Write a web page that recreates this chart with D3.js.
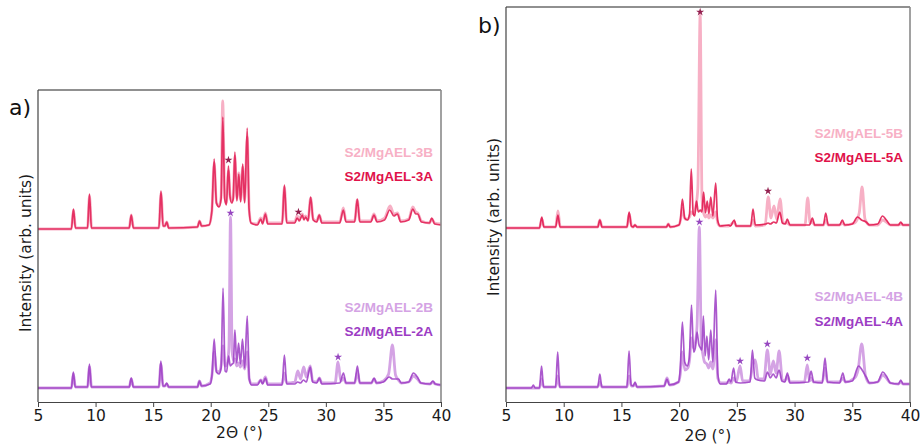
<!DOCTYPE html>
<html>
<head>
<meta charset="utf-8">
<script src="https://cdn.jsdelivr.net/npm/d3@7"></script>
<style>
  body { margin: 0; background: #fff; }
  svg { display: block; }
  text { font-family: "DejaVu Sans", sans-serif; }
  .legend { font-family: "Liberation Sans", Arial, sans-serif; font-weight: bold; }
</style>
</head>
<body>
<svg id="chart" width="921" height="446"></svg>
<script>
// ---- data -------------------------------------------------------------
const xTicks = [5, 10, 15, 20, 25, 30, 35, 40];
const xDomain = [5, 40];

// XRD patterns: [2θ (°), intensity above the pattern's own baseline, arb. units]
const mgael3A = [[5,0],[7.9,0],[8.08,20],[8.25,1],[9.3,1],[9.47,35],[9.64,1],[12.92,1],[13.1,14],[13.28,1],[15.5,1],[15.68,38],[15.86,3],[16.02,3],[16.18,7],[16.35,1],[18.85,2],[19.03,8],[19.2,3],[19.85,4],[20.1,18],[20.3,70],[20.5,26],[20.72,22],[20.9,30],[21.05,112],[21.22,30],[21.36,24],[21.54,63],[21.68,32],[21.82,26],[21.95,30],[22.1,77],[22.27,28],[22.44,55],[22.6,27],[22.78,65],[22.95,26],[23.17,101],[23.33,20],[23.5,6],[24.05,4],[24.35,10],[24.5,5],[24.75,15],[24.95,5],[26.2,5],[26.4,44],[26.6,6],[27.3,6],[27.5,11],[27.7,8],[27.95,14],[28.1,9],[28.25,12],[28.45,8],[28.68,32],[28.9,9],[29.2,7],[29.43,14],[29.65,6],[31.2,6],[31.52,19],[31.75,7],[32.5,7],[32.73,30],[32.95,7],[33.9,7],[34.18,14],[34.45,7],[35.1,9],[35.55,19],[35.9,13],[36.22,15],[36.5,7],[37.2,9],[37.55,20],[37.8,15],[37.98,15],[38.3,7],[39.0,6],[39.2,11],[39.45,5],[40,4]];
const mgael3B = [[5,0],[7.9,0],[8.08,19],[8.27,1],[9.3,1],[9.47,33],[9.66,1],[12.92,1],[13.1,14],[13.3,1],[15.5,1],[15.68,36],[15.88,3],[16.02,3],[16.18,7],[16.37,1],[18.85,2],[19.03,8],[19.22,3],[19.85,4],[20.1,18],[20.3,66],[20.5,26],[20.72,23],[20.9,32],[21.04,128],[21.22,32],[21.36,26],[21.54,58],[21.68,34],[21.82,28],[21.95,31],[22.1,73],[22.27,30],[22.44,56],[22.6,29],[22.78,62],[22.95,28],[23.17,92],[23.35,18],[23.52,6],[24.05,5],[24.35,11],[24.5,7],[24.75,16],[24.95,6],[26.2,6],[26.4,42],[26.6,7],[27.3,7],[27.5,13],[27.7,10],[27.95,15],[28.1,11],[28.25,13],[28.45,9],[28.68,31],[28.9,10],[29.2,8],[29.43,14],[29.65,7],[31.2,7],[31.52,21],[31.75,8],[32.5,8],[32.73,29],[32.95,8],[33.9,8],[34.18,15],[34.45,8],[35.1,11],[35.58,23],[35.9,15],[36.22,16],[36.5,8],[37.2,10],[37.55,22],[37.8,17],[37.98,16],[38.3,8],[39.0,6],[39.2,10],[39.45,6],[40,5]];
const mgael2A = [[5,0],[7.9,0],[8.07,16],[8.23,1],[9.3,1],[9.47,24],[9.63,1],[12.92,1],[13.1,10],[13.28,1],[15.5,1],[15.67,27],[15.85,2],[16.02,2],[16.18,5],[16.35,1],[18.85,1],[19.02,7],[19.2,2],[19.95,4],[20.12,14],[20.3,49],[20.5,16],[20.72,14],[20.9,20],[21.07,100],[21.25,17],[21.38,16],[21.55,32],[21.7,22],[21.86,24],[21.97,25],[22.1,58],[22.26,25],[22.42,45],[22.58,24],[22.76,49],[22.95,20],[23.17,72],[23.35,9],[23.55,3],[24.05,3],[24.35,8],[24.5,4],[24.75,10],[24.95,3],[26.2,3],[26.4,33],[26.6,4],[27.3,4],[27.55,6],[27.8,5],[28.05,8],[28.3,6],[28.65,21],[28.85,6],[29.2,5],[29.44,10],[29.65,4],[31.2,5],[31.53,15],[31.75,5],[32.5,5],[32.74,22],[32.95,5],[33.95,5],[34.19,10],[34.4,5],[35.0,6],[35.5,11],[35.8,9],[36.3,9],[36.55,5],[37.2,6],[37.6,15],[37.95,11],[38.25,5],[39.05,4],[39.3,7],[39.5,4],[40,3]];
const mgael2B = [[5,0],[7.9,0],[8.07,14],[8.25,1],[9.3,1],[9.47,21],[9.65,1],[12.92,1],[13.1,9],[13.3,1],[15.5,1],[15.67,24],[15.87,2],[16.02,2],[16.18,4],[16.35,1],[18.85,1],[19.02,7],[19.22,2],[19.95,5],[20.12,14],[20.3,36],[20.5,17],[20.75,16],[20.9,22],[21.07,42],[21.25,22],[21.42,24],[21.58,40],[21.72,171],[21.86,36],[22.0,27],[22.1,29],[22.26,22],[22.42,25],[22.58,21],[22.76,27],[22.95,19],[23.17,36],[23.35,9],[23.55,4],[24.05,4],[24.35,8],[24.5,5],[24.75,11],[24.95,4],[26.2,4],[26.4,15],[26.6,5],[27.3,6],[27.56,17],[27.8,9],[28.08,21],[28.3,11],[28.65,22],[28.85,7],[29.2,6],[29.44,10],[29.65,5],[30.8,5],[31.06,26],[31.3,7],[31.53,10],[31.75,5],[32.5,5],[32.74,16],[32.95,5],[33.95,5],[34.19,9],[34.4,5],[35.0,7],[35.45,14],[35.78,43],[36.05,13],[36.3,8],[36.55,5],[37.2,6],[37.6,12],[37.95,9],[38.25,5],[39.05,4],[39.3,6],[39.5,4],[40,3]];
const mgael5A = [[5,0],[7.9,0],[8.1,11],[8.28,1],[9.3,1],[9.5,13],[9.68,1],[12.95,1],[13.13,8],[13.32,1],[15.48,1],[15.67,16],[15.86,2],[16.02,1],[16.17,3],[16.35,1],[18.9,1],[19.06,4],[19.22,1],[19.98,3],[20.12,9],[20.28,29],[20.48,10],[20.72,8],[20.9,14],[21.05,59],[21.22,14],[21.35,12],[21.5,27],[21.66,16],[21.84,18],[21.97,16],[22.12,36],[22.28,15],[22.43,27],[22.58,14],[22.74,31],[22.92,12],[23.17,45],[23.33,8],[23.55,2],[24.3,3],[24.45,2],[24.77,8],[24.95,2],[26.2,2],[26.4,19],[26.6,3],[27.5,4],[27.7,5],[27.9,4],[28.2,6],[28.42,5],[28.72,16],[28.95,5],[29.2,4],[29.37,9],[29.6,3],[31.3,3],[31.54,10],[31.75,3],[32.5,3],[32.7,15],[32.92,3],[33.9,3],[34.14,8],[34.35,3],[35.0,4],[35.45,11],[35.8,8],[36.2,6],[36.5,3],[37.2,4],[37.62,12],[37.95,8],[38.3,3],[39.0,3],[39.2,6],[39.4,3],[40,3]];
const mgael5B = [[5,0],[7.9,0],[8.1,9],[8.3,1],[9.3,1],[9.5,17],[9.7,1],[12.95,1],[13.13,8],[13.33,1],[15.48,1],[15.67,14],[15.88,2],[16.02,1],[16.17,3],[16.37,1],[18.9,1],[19.06,4],[19.24,1],[19.98,3],[20.12,8],[20.28,20],[20.5,9],[20.75,9],[20.9,11],[21.05,16],[21.25,14],[21.45,22],[21.62,40],[21.82,213],[21.98,30],[22.12,15],[22.28,11],[22.43,13],[22.58,10],[22.74,13],[22.92,10],[23.17,16],[23.35,5],[23.55,2],[24.3,2],[24.77,6],[24.95,2],[26.2,2],[26.4,8],[26.6,2],[27.45,3],[27.72,31],[27.95,10],[28.22,22],[28.45,9],[28.74,29],[29.0,5],[29.37,5],[29.6,3],[30.9,3],[31.14,30],[31.35,5],[31.54,6],[31.75,3],[32.5,3],[32.7,8],[32.92,3],[33.9,3],[34.14,5],[34.35,3],[35.2,5],[35.6,15],[35.85,41],[36.1,9],[36.5,3],[37.2,3],[37.64,8],[37.95,6],[38.3,3],[39.0,3],[39.2,4],[39.4,3],[40,3]];
const mgael4A = [[5,0],[7.2,0],[7.37,3],[7.52,0],[7.9,0],[8.08,22],[8.25,1],[9.3,1],[9.48,36],[9.65,1],[12.95,1],[13.13,14],[13.3,1],[15.48,1],[15.66,37],[15.84,3],[16.02,2],[16.18,6],[16.35,1],[18.7,2],[18.95,9],[19.15,3],[19.95,6],[20.1,20],[20.28,66],[20.48,26],[20.7,22],[20.88,30],[21.07,83],[21.25,36],[21.4,40],[21.55,56],[21.7,44],[21.85,40],[21.97,38],[22.1,72],[22.25,32],[22.4,52],[22.56,28],[22.74,58],[22.92,26],[23.17,98],[23.35,14],[23.55,4],[24.1,4],[24.33,9],[24.48,6],[24.72,20],[24.9,6],[25.3,5],[26.15,6],[26.35,38],[26.55,10],[26.8,8],[27.4,7],[27.65,16],[27.9,10],[28.15,14],[28.4,10],[28.66,18],[28.9,7],[29.15,6],[29.38,15],[29.6,5],[31.2,6],[31.43,17],[31.65,6],[32.4,5],[32.64,30],[32.85,6],[33.9,5],[34.18,15],[34.4,6],[35.0,7],[35.55,22],[35.85,18],[36.2,11],[36.5,5],[37.2,6],[37.64,16],[37.95,12],[38.3,5],[39.0,4],[39.2,8],[39.4,4],[40,4]];
const mgael4B = [[5,0],[7.9,0],[8.08,9],[8.27,1],[9.3,1],[9.48,12],[9.67,1],[12.95,1],[13.13,6],[13.32,1],[15.48,1],[15.66,12],[15.86,2],[16.02,2],[16.18,4],[16.37,1],[18.7,2],[18.95,10],[19.18,3],[19.95,6],[20.1,14],[20.28,36],[20.5,18],[20.75,20],[20.9,28],[21.07,50],[21.25,40],[21.4,45],[21.55,62],[21.75,161],[21.92,45],[22.05,34],[22.2,26],[22.4,24],[22.56,20],[22.74,26],[22.92,19],[23.17,48],[23.35,10],[23.6,5],[24.1,5],[24.3,6],[24.5,5],[24.72,10],[24.95,6],[25.28,22],[25.5,7],[26.1,7],[26.4,24],[26.6,28],[26.85,9],[27.35,9],[27.64,38],[27.9,14],[28.16,27],[28.4,15],[28.66,37],[28.95,8],[29.15,7],[29.38,12],[29.6,6],[30.85,6],[31.1,23],[31.3,7],[31.43,10],[31.65,6],[32.4,6],[32.64,20],[32.85,6],[33.9,6],[34.18,10],[34.4,6],[35.2,10],[35.5,18],[35.82,44],[36.15,12],[36.5,5],[37.2,6],[37.64,13],[37.95,10],[38.3,5],[39.0,4],[39.2,6],[39.4,4],[40,4]];

// vertical offsets of the stacked patterns (arb. units)
const offsetsA = { upper: 173, lower: 14 };
const offsetsB = { upper: 174, lower: 14 };

// impurity reflections marked with a star: [2θ, intensity incl. offset, group]
const starsA = [[21.54, 242, "red"], [27.62, 190, "red"], [21.72, 189, "violet"], [31.06, 45, "violet"]];
const starsB = [[21.82, 390, "red"], [27.7, 211, "red"], [21.76, 180, "violet"], [25.28, 41, "violet"], [27.64, 58, "violet"], [31.1, 44, "violet"]];

const colors = {
  pinkLight: "#f7b0c5", crimson: "#e0124a",
  lilac: "#d4a3e4", violet: "#9c3cc4",
  starRed: "#93204f", starViolet: "#9646c0"
};

// ---- layout -------------------------------------------------------------
const panels = [
  {
    tag: "a)", left: 38, right: 441, top: 90, bottom: 402, yMax: 312,
    tagPos: [9, 115], yLabel: [26, 253], legendX: 433, xLabelY: 438,
    series: [
      { name: "S2/MgAEL-3B", data: mgael3B, off: offsetsA.upper, color: colors.pinkLight, w: 2.8, op: 1, ly: 152 },
      { name: "S2/MgAEL-3A", data: mgael3A, off: offsetsA.upper, color: colors.crimson, w: 1.7, op: 0.8, ly: 176 },
      { name: "S2/MgAEL-2B", data: mgael2B, off: offsetsA.lower, color: colors.lilac, w: 2.8, op: 1, ly: 307 },
      { name: "S2/MgAEL-2A", data: mgael2A, off: offsetsA.lower, color: colors.violet, w: 1.7, op: 0.85, ly: 331 }
    ],
    stars: starsA
  },
  {
    tag: "b)", left: 506, right: 910, top: 7, bottom: 402, yMax: 395,
    tagPos: [478, 33], yLabel: [494, 217], legendX: 903, xLabelY: 441,
    series: [
      { name: "S2/MgAEL-5B", data: mgael5B, off: offsetsB.upper, color: colors.pinkLight, w: 2.8, op: 1, ly: 133 },
      { name: "S2/MgAEL-5A", data: mgael5A, off: offsetsB.upper, color: colors.crimson, w: 1.7, op: 0.85, ly: 157 },
      { name: "S2/MgAEL-4B", data: mgael4B, off: offsetsB.lower, color: colors.lilac, w: 2.8, op: 1, ly: 296 },
      { name: "S2/MgAEL-4A", data: mgael4A, off: offsetsB.lower, color: colors.violet, w: 1.7, op: 0.85, ly: 321 }
    ],
    stars: starsB
  }
];

const svg = d3.select("#chart");

panels.forEach(p => {
  const x = d3.scaleLinear().domain(xDomain).range([p.left, p.right]);
  const y = d3.scaleLinear().domain([0, p.yMax]).range([p.bottom, p.top]);
  const g = svg.append("g");

  // patterns
  p.series.forEach(s => {
    const line = d3.line()
      .x(d => x(d[0]))
      .y(d => y(d[1] + s.off))
      .curve(d3.curveMonotoneX);
    g.append("path")
      .attr("d", line(s.data))
      .attr("fill", "none")
      .attr("stroke", s.color)
      .attr("stroke-width", s.w)
      .attr("stroke-opacity", s.op)
      .attr("stroke-linejoin", "round");
  });

  // stars on impurity reflections
  g.selectAll("path.star").data(p.stars).join("path")
    .attr("class", "star")
    .attr("d", d3.symbol(d3.symbolStar, 20)())
    .attr("transform", d => `translate(${x(d[0])},${y(d[1])})`)
    .attr("fill", d => d[2] === "red" ? colors.starRed : colors.starViolet);

  // legend
  p.series.forEach(s => {
    g.append("text")
      .attr("class", "legend")
      .attr("x", p.legendX).attr("y", s.ly)
      .attr("dy", "0.35em")
      .attr("text-anchor", "end")
      .attr("font-size", 13.5)
      .attr("fill", s.color)
      .text(s.name);
  });

  // frame
  g.append("line").attr("x1", p.left).attr("x2", p.right).attr("y1", p.top).attr("y2", p.top)
    .attr("stroke", "#222").attr("stroke-width", 1.2);
  g.append("line").attr("x1", p.left).attr("x2", p.left).attr("y1", p.top).attr("y2", p.bottom)
    .attr("stroke", "#444").attr("stroke-width", 1.2);
  g.append("line").attr("x1", p.right).attr("x2", p.right).attr("y1", p.top).attr("y2", p.bottom)
    .attr("stroke", "#8a8a8a").attr("stroke-width", 1.6);

  // x axis
  const ax = g.append("g")
    .attr("transform", `translate(0,${p.bottom})`)
    .call(d3.axisBottom(x).tickValues(xTicks).tickSize(5).tickSizeOuter(0).tickPadding(3));
  ax.select(".domain").attr("stroke", "#444").attr("stroke-width", 1.2);
  ax.selectAll(".tick line").attr("stroke", "#444");
  ax.selectAll(".tick text")
    .attr("font-family", "DejaVu Sans, sans-serif")
    .attr("font-size", 15.5)
    .attr("fill", "#1a1a1a");

  // axis titles
  g.append("text")
    .attr("x", (p.left + p.right) / 2).attr("y", p.xLabelY)
    .attr("text-anchor", "middle")
    .attr("font-size", 15.5).attr("fill", "#1a1a1a")
    .text("2Θ (°)");
  g.append("text")
    .attr("transform", `translate(${p.yLabel[0]},${p.yLabel[1]}) rotate(-90)`)
    .attr("text-anchor", "middle").attr("dy", "0.35em")
    .attr("font-size", 15.5).attr("fill", "#1a1a1a")
    .text("Intensity (arb. units)");

  // panel tag
  g.append("text")
    .attr("x", p.tagPos[0]).attr("y", p.tagPos[1])
    .attr("font-size", 22).attr("fill", "#111")
    .text(p.tag);
});
</script>
</body>
</html>
